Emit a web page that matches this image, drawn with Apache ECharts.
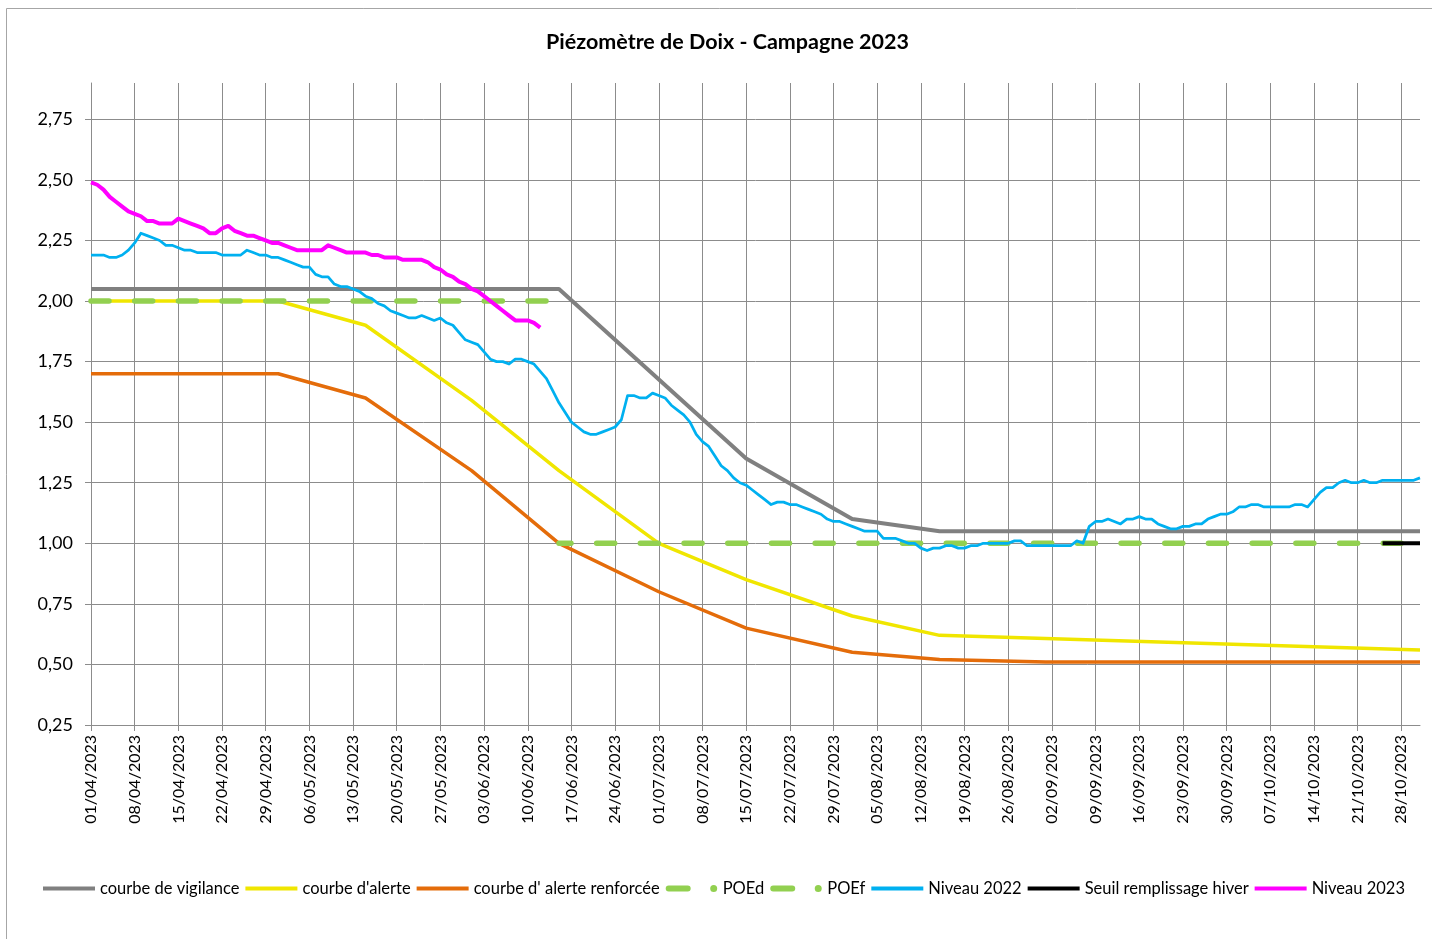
<!DOCTYPE html>
<html><head><meta charset="utf-8">
<script src="https://cdn.jsdelivr.net/npm/echarts@6/dist/echarts.min.js"></script>
<style>html,body{margin:0;padding:0;background:#fff}#c{width:1432px;height:939px}</style>
</head><body><div id="c"></div>
<script>
// ---- DATA ----
const titleText = 'Piézomètre de Doix - Campagne 2023';
const startDay = new Date(2023, 3, 1);
const endDay = new Date(2023, 9, 31);
const yTicks = [0.25, 0.5, 0.75, 1.0, 1.25, 1.5, 1.75, 2.0, 2.25, 2.5, 2.75];

const vigilance = [['01/04/2023', 2.05], ['15/06/2023', 2.05], ['15/07/2023', 1.35], ['01/08/2023', 1.10], ['15/08/2023', 1.05], ['31/10/2023', 1.05]];
const alerte = [['01/04/2023', 2.00], ['01/05/2023', 2.00], ['15/05/2023', 1.90], ['01/06/2023', 1.59], ['15/06/2023', 1.30], ['01/07/2023', 1.00], ['15/07/2023', 0.85], ['01/08/2023', 0.70], ['15/08/2023', 0.62], ['31/10/2023', 0.56]];
const alerteRenforcee = [['01/04/2023', 1.70], ['01/05/2023', 1.70], ['15/05/2023', 1.60], ['01/06/2023', 1.30], ['15/06/2023', 1.00], ['01/07/2023', 0.80], ['15/07/2023', 0.65], ['01/08/2023', 0.55], ['15/08/2023', 0.52], ['01/09/2023', 0.51], ['31/10/2023', 0.51]];
const poed = [['01/04/2023', 2.00], ['15/06/2023', 2.00]];
const poef = [['15/06/2023', 1.00], ['31/10/2023', 1.00]];
const seuilHiver = [['25/10/2023', 1.00], ['31/10/2023', 1.00]];

// daily levels, starting 01/04
const niveau2022 = [
 2.19,2.19,2.19,2.18,2.18,2.19,2.21,2.24,2.28,2.27,
 2.26,2.25,2.23,2.23,2.22,2.21,2.21,2.20,2.20,2.20,
 2.20,2.19,2.19,2.19,2.19,2.21,2.20,2.19,2.19,2.18,
 2.18,2.17,2.16,2.15,2.14,2.14,2.11,2.10,2.10,2.07,
 2.06,2.06,2.05,2.04,2.02,2.01,1.99,1.98,1.96,1.95,
 1.94,1.93,1.93,1.94,1.93,1.92,1.93,1.91,1.90,1.87,
 1.84,1.83,1.82,1.79,1.76,1.75,1.75,1.74,1.76,1.76,
 1.75,1.74,1.71,1.68,1.63,1.58,1.54,1.50,1.48,1.46,
 1.45,1.45,1.46,1.47,1.48,1.51,1.61,1.61,1.60,1.60,
 1.62,1.61,1.60,1.57,1.55,1.53,1.50,1.45,1.42,1.40,
 1.36,1.32,1.30,1.27,1.25,1.24,1.22,1.20,1.18,1.16,
 1.17,1.17,1.16,1.16,1.15,1.14,1.13,1.12,1.10,1.09,
 1.09,1.08,1.07,1.06,1.05,1.05,1.05,1.02,1.02,1.02,
 1.01,1.00,1.00,0.98,0.97,0.98,0.98,0.99,0.99,0.98,
 0.98,0.99,0.99,1.00,1.00,1.00,1.00,1.00,1.01,1.01,
 0.99,0.99,0.99,0.99,0.99,0.99,0.99,0.99,1.01,1.00,
 1.07,1.09,1.09,1.10,1.09,1.08,1.10,1.10,1.11,1.10,
 1.10,1.08,1.07,1.06,1.06,1.07,1.07,1.08,1.08,1.10,
 1.11,1.12,1.12,1.13,1.15,1.15,1.16,1.16,1.15,1.15,
 1.15,1.15,1.15,1.16,1.16,1.15,1.18,1.21,1.23,1.23,
 1.25,1.26,1.25,1.25,1.26,1.25,1.25,1.26,1.26,1.26,
 1.26,1.26,1.26,1.27
];
const niveau2023 = [
 2.49,2.48,2.46,2.43,2.41,2.39,2.37,2.36,2.35,2.33,
 2.33,2.32,2.32,2.32,2.34,2.33,2.32,2.31,2.30,2.28,
 2.28,2.30,2.31,2.29,2.28,2.27,2.27,2.26,2.25,2.24,
 2.24,2.23,2.22,2.21,2.21,2.21,2.21,2.21,2.23,2.22,
 2.21,2.20,2.20,2.20,2.20,2.19,2.19,2.18,2.18,2.18,
 2.17,2.17,2.17,2.17,2.16,2.14,2.13,2.11,2.10,2.08,
 2.07,2.05,2.04,2.02,2.00,1.98,1.96,1.94,1.92,1.92,
 1.92,1.91,1.89
];

const seriesNames = ['courbe de vigilance', "courbe d'alerte", "courbe d' alerte renforcée", 'POEd', 'POEf', 'Niveau 2022', 'Seuil remplissage hiver', 'Niveau 2023'];

// ---- BUILD ----
function fmt(d) {
  const p = n => (n < 10 ? '0' : '') + n;
  return p(d.getDate()) + '/' + p(d.getMonth() + 1) + '/' + d.getFullYear();
}
const categories = [];
for (let d = new Date(startDay); d <= endDay; d.setDate(d.getDate() + 1)) categories.push(fmt(d));

const FONT = 'Lato';
const gridColor = '#8c8c8c';
const lineIcon = 'path://M0,0 M52,8 M0,2 H52 V6 H0 Z';
const dashIcon = 'path://M0,0 M52,8 M3,1 H22 A3,3 0 0 1 22,7 H3 A3,3 0 0 1 3,1 Z M48,0.5 A3.5,3.5 0 1 1 48,7.5 A3.5,3.5 0 1 1 48,0.5 Z';

function lineSeries(name, data, color, width, extra) {
  return Object.assign({
    name, type: 'line', data, symbol: 'none', animation: false,
    lineStyle: { color, width, join: 'round', cap: 'butt' },
    itemStyle: { color }
  }, extra || {});
}
const dashStyle = { type: [18, 25.7], cap: 'round' };

const chart = echarts.init(document.getElementById('c'), null, { renderer: 'canvas' });
chart.setOption({
  backgroundColor: '#fff',
  animation: false,
  textStyle: { fontFamily: FONT },
  title: {
    text: titleText, left: 541, top: 26,
    textStyle: { fontFamily: FONT, fontSize: 21.5, fontWeight: 'bold', color: '#000' }
  },
  graphic: [{
    type: 'rect', shape: { x: 6.5, y: 8.5, width: 1500, height: 1000 },
    style: { fill: 'none', stroke: '#a6a6a6', lineWidth: 1 }, silent: true, z: -1
  }],
  grid: { left: 91, right: 12, top: 83, bottom: 214, containLabel: false },
  legend: {
    top: 875, left: 38, itemWidth: 52, itemHeight: 8, itemGap: 6,
    textStyle: { fontFamily: FONT, fontSize: 16.5, color: '#000' },
    itemStyle: { borderWidth: 0 },
    data: seriesNames.map(n => ({ name: n, icon: (n === 'POEd' || n === 'POEf') ? dashIcon : lineIcon }))
  },
  xAxis: {
    type: 'category', data: categories, boundaryGap: false,
    axisLine: { show: true, lineStyle: { color: gridColor, width: 1 } },
    axisTick: { show: true, interval: 6, length: 6, lineStyle: { color: gridColor } },
    axisLabel: { interval: 6, rotate: 90, margin: 10, fontFamily: FONT, fontSize: 16, color: '#000' },
    splitLine: { show: true, interval: 6, lineStyle: { color: gridColor, width: 1 } }
  },
  yAxis: {
    type: 'value', min: yTicks[0], max: 2.9, interval: 0.25,
    axisLine: { show: true, lineStyle: { color: gridColor, width: 1 } },
    axisTick: { show: true, length: 6, lineStyle: { color: gridColor } },
    axisLabel: {
      showMaxLabel: false, margin: 18, fontFamily: FONT, fontSize: 18, color: '#000',
      formatter: v => yTicks.some(t => Math.abs(t - v) < 1e-6) ? v.toFixed(2).replace('.', ',') : ''
    },
    splitLine: { show: true, showMaxLine: false, lineStyle: { color: gridColor, width: 1 } }
  },
  series: [
    lineSeries(seriesNames[0], vigilance, '#808080', 4),
    lineSeries(seriesNames[1], alerte, '#F0E600', 3.5),
    lineSeries(seriesNames[2], alerteRenforcee, '#E46C0A', 3.5),
    lineSeries(seriesNames[3], poed, '#92D050', 5.5, { lineStyle: Object.assign({ color: '#92D050', width: 5.5 }, dashStyle) }),
    lineSeries(seriesNames[4], poef, '#92D050', 5.5, { lineStyle: Object.assign({ color: '#92D050', width: 5.5, dashOffset: 6 }, dashStyle) }),
    lineSeries(seriesNames[5], niveau2022, '#00B0F0', 2.75),
    lineSeries(seriesNames[6], seuilHiver, '#000000', 4),
    lineSeries(seriesNames[7], niveau2023, '#FF00FF', 4)
  ]
});
</script></body></html>
